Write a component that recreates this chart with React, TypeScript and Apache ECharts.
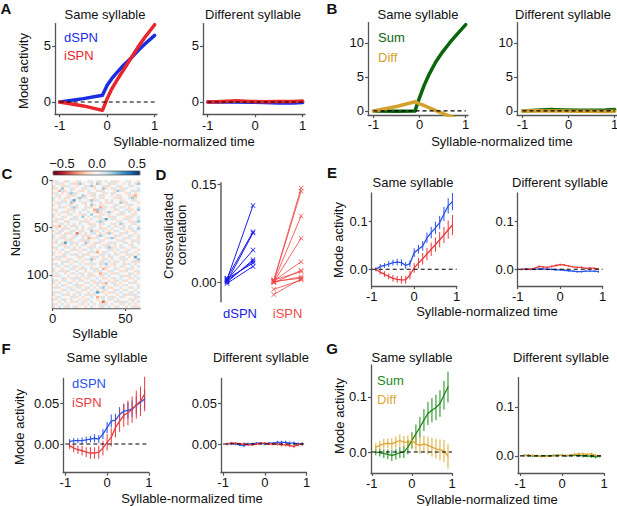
import React, { useEffect, useRef } from 'react';
import * as echarts from 'echarts';

// ---------- Panel A ----------
const A_T = [-1, -0.5, -0.1, 0, 0.1, 0.2, 0.35, 0.5, 0.65, 0.8, 1];
const A_DSPN = [0, 0.3, 0.6, 1.5, 2.1, 2.6, 3.3, 3.9, 4.6, 5.2, 5.95];
const A_ISPN = [0, -0.35, -0.75, 0.3, 1.2, 1.9, 2.9, 3.9, 4.9, 5.8, 6.9];
const A2_T = [-1, -0.7, -0.4, -0.1, 0.2, 0.5, 0.8, 1];
const A2_DSPN = [0, 0.02, 0, -0.02, -0.05, -0.08, -0.08, -0.05];
const A2_ISPN = [0, 0.05, 0.12, 0.05, 0.02, 0.05, 0.05, 0.08];

// ---------- Panel B ----------
const B_SUM = [0, -0.05, 0.0, 2.0, 3.8, 5.3, 7.2, 8.7, 10.0, 11.2, 12.7];
const B_DIFF = [0, 0.65, 1.35, 1.05, 0.8, 0.5, 0.05, -0.35, -0.75, -1.1, -1.7];
const B2_SUM = [0, 0.1, 0.2, 0.15, 0.1, 0.1, 0.12, 0.2];
const B2_DIFF = [0, 0.02, -0.02, 0, -0.05, -0.05, -0.08, -0.05];

// ---------- Panel C (neuron x syllable weights, digit d -> (d-4)*0.11) ----------
const C_ROWS = [
  '354435443544534354345334453443', '435344533634454634453544345436', '544335443445363443534435443544',
  '334644534453443446343543354445', '442534544334544353444365344535', '354343653444353443545344435434',
  '435443354463435453443453443324', '543435443635443435444335445634', '344534374544363544345443344354',
  '435354634435454434353446354443', '345443345443463453444534435344', '443534563445334423543545343445',
  '354443354453442635444354453346', '434535434544543254363443545434', '543443544335464433454435344354',
  '344534453464345354433544435345', '435344535443454435745344353445', '354435444353344563444435443536',
  '443543454544533435443546344354', '332454353454435434454334545443', '454335445434354453345445343546',
  '343544534354463345434354434354', '435433541543455434363445354434', '544354435435344365444353445345',
  '343534354454233544356344535443', '454435344533544453444435344353', '334574535446343534453544354345',
  '445334543453435443534345443544', '354435434544353454365343544354', '434544353435454344453454435443',
  '543435444344535243544345354434', '344354535453344435454534435345', '453534443534453543435443543474',
  '335443544345363443543445354436', '444353435434454435454354344353', '354544344543535453643544535434',
  '435435453454434434534345344545', '544344534335453542344534435344', '343535445443445354435443354435',
  '454434354534534423543354445343', '335445443454353435454445335454', '444534355343544543343545443345',
  '534354434534453454434354534434', '345443543445343535245343445354', '434534455334454343544534354443',
  '353445343543543456433445443545', '444354534453454343544354354434', '535443445344345753433545443545',
  '344535434545353444344434535354', '435444353434454235435345344435', '354534544343544345453454443534',
  '443454335453454431344535354345', '534543444534543453543443545434', '345435453443454435454354434353',
];

// ---------- Panel D ----------
const D_X = [0, 1, 1.8, 2.85];
const D_DSPN_PRE = [0.004, 0.006, 0.001, 0.003, 0.0, 0.002, 0.005, -0.002];
const D_DSPN_POST = [0.117, 0.077, 0.075, 0.049, 0.034, 0.032, 0.029, 0.024];
const D_ISPN_PRE = [0.003, 0.002, 0.001, 0.0, 0.002, -0.001, 0.003, 0.0, 0.001, -0.011, -0.019];
const D_ISPN_POST = [0.144, 0.139, 0.101, 0.067, 0.031, 0.018, 0.016, 0.008, 0.006, 0.003, 0.005];

// ---------- Panels E, F, G ----------
const T = [-0.9, -0.8, -0.7, -0.6, -0.5, -0.4, -0.3, -0.2, -0.1, 0, 0.1, 0.2, 0.3, 0.4, 0.5, 0.6, 0.7, 0.8, 0.9];

const E_DSPN = [0.0, 0.006, 0.008, 0.011, 0.014, 0.015, 0.014, 0.008, 0.012, 0.035, 0.042, 0.049, 0.066, 0.077, 0.087, 0.098, 0.116, 0.133, 0.142];
const E_DSPN_ERR = [0.004, 0.005, 0.005, 0.006, 0.006, 0.007, 0.007, 0.007, 0.007, 0.009, 0.009, 0.010, 0.011, 0.012, 0.013, 0.014, 0.015, 0.016, 0.018];
const E_ISPN = [0.0, -0.006, -0.010, -0.015, -0.019, -0.021, -0.022, -0.022, -0.012, 0.003, 0.013, 0.022, 0.032, 0.042, 0.052, 0.062, 0.072, 0.083, 0.093];
const E_ISPN_ERR = [0.004, 0.005, 0.006, 0.006, 0.007, 0.007, 0.008, 0.008, 0.009, 0.010, 0.011, 0.012, 0.013, 0.014, 0.015, 0.016, 0.017, 0.019, 0.021];
const E2_DSPN = [0.0, 0.001, 0.0, 0.0, 0.001, 0.001, 0.0, 0.0, -0.001, -0.001, -0.002, -0.003, -0.004, -0.005, -0.005, -0.004, -0.004, -0.004, -0.005];
const E2_ISPN = [0.0, 0.0, 0.0, 0.002, 0.006, 0.005, 0.004, 0.006, 0.008, 0.010, 0.009, 0.007, 0.005, 0.004, 0.004, 0.002, 0.003, 0.002, 0.001];
const E2_ERR = [0.002, 0.002, 0.002, 0.002, 0.002, 0.002, 0.002, 0.002, 0.002, 0.002, 0.002, 0.002, 0.002, 0.002, 0.002, 0.002, 0.002, 0.002, 0.002];

const F_DSPN = [0.003, 0.004, 0.004, 0.004, 0.005, 0.006, 0.007, 0.006, 0.012, 0.020, 0.028, 0.029, 0.036, 0.040, 0.041, 0.043, 0.047, 0.051, 0.055];
const F_DSPN_ERR = [0.003, 0.003, 0.003, 0.004, 0.004, 0.004, 0.005, 0.005, 0.006, 0.007, 0.008, 0.008, 0.009, 0.009, 0.010, 0.010, 0.011, 0.011, 0.012];
const F_ISPN = [-0.002, -0.005, -0.007, -0.008, -0.010, -0.011, -0.011, -0.010, -0.005, 0.002, 0.008, 0.020, 0.028, 0.035, 0.038, 0.042, 0.048, 0.052, 0.061];
const F_ISPN_ERR = [0.004, 0.005, 0.005, 0.006, 0.006, 0.007, 0.007, 0.008, 0.009, 0.010, 0.011, 0.012, 0.013, 0.014, 0.015, 0.016, 0.017, 0.018, 0.021];
const F2_DSPN = [0.0, 0.001, 0.0, -0.001, -0.002, 0.0, 0.0, 0.001, 0.001, 0.0, 0.001, 0.001, 0.002, 0.002, 0.002, 0.001, 0.001, 0.0, 0.0];
const F2_ISPN = [0.0, 0.001, 0.001, 0.0, 0.0, -0.001, -0.001, 0.0, 0.001, 0.001, 0.0, 0.0, 0.0, -0.001, -0.001, -0.002, -0.003, -0.001, 0.0];
const F2_ERR = [0.0015, 0.0015, 0.0015, 0.0015, 0.002, 0.0015, 0.0015, 0.0015, 0.0015, 0.0015, 0.0015, 0.0015, 0.002, 0.002, 0.002, 0.002, 0.002, 0.002, 0.002];

const G_SUM = [0.0, -0.001, -0.003, -0.004, -0.006, -0.004, -0.001, 0.0, 0.009, 0.021, 0.033, 0.045, 0.058, 0.070, 0.076, 0.081, 0.088, 0.103, 0.118];
const G_SUM_ERR = [0.006, 0.007, 0.008, 0.009, 0.010, 0.010, 0.010, 0.011, 0.013, 0.015, 0.017, 0.019, 0.020, 0.021, 0.022, 0.023, 0.024, 0.026, 0.028];
const G_DIFF = [0.009, 0.012, 0.015, 0.016, 0.015, 0.018, 0.021, 0.018, 0.018, 0.021, 0.015, 0.012, 0.015, 0.012, 0.009, 0.006, 0.004, 0.002, -0.008];
const G_DIFF_ERR = [0.007, 0.008, 0.009, 0.009, 0.010, 0.010, 0.011, 0.011, 0.012, 0.013, 0.014, 0.015, 0.015, 0.016, 0.017, 0.018, 0.019, 0.020, 0.022];
const G2_SUM = [0.001, 0.001, 0.0, 0.0, -0.001, 0.0, 0.0, 0.001, 0.001, 0.001, 0.0, 0.001, 0.002, 0.001, 0.0, 0.0, -0.001, -0.002, -0.001];
const G2_DIFF = [0.0, 0.001, 0.001, 0.0, -0.001, -0.001, 0.0, 0.0, 0.001, 0.001, 0.001, 0.002, 0.003, 0.004, 0.004, 0.003, 0.004, 0.001, 0.0];
const G2_ERR = [0.002, 0.002, 0.002, 0.002, 0.002, 0.002, 0.002, 0.002, 0.002, 0.002, 0.002, 0.002, 0.003, 0.003, 0.003, 0.003, 0.003, 0.003, 0.002];

const FONT = "'Liberation Sans', Arial, Helvetica, sans-serif";
const AX = '#555';
const BLUE_A = '#1b2de3';
const RED_A = '#e8262b';
const GREEN_B = '#0b650b';
const GOLD_B = '#d4a12d';
const BLUE_E = '#2a52e8';
const RED_E = '#ea3a3d';
const GREEN_G = '#1a8a1a';
const GOLD_G = '#dba832';
const BLUE_D = '#1a1ae8';
const RED_D = '#f04a4a';

const RDBU = ['#67001f', '#b2182b', '#d6604d', '#f4a582', '#fddbc7', '#f7f7f7', '#d1e5f0', '#92c5de', '#4393c3', '#2166ac', '#053061'];
const XSHAPE = 'path://M0,1L1,0L5,4L9,0L10,1L6,5L10,9L9,10L5,6L1,10L0,9L4,5Z';

function buildOption() {
  const grid: any[] = [];
  const xAxis: any[] = [];
  const yAxis: any[] = [];
  const series: any[] = [];

  const valAxis = (gi: number, r: number[], ticks: number[], fmt: (v: number) => string, margin: number, extra: any = {}) => ({
    type: 'value', gridIndex: gi, min: r[0], max: r[1], ...extra,
    axisLine: { show: true, onZero: false, lineStyle: { color: AX, width: 1.3 } },
    axisTick: { show: true, length: 3, customValues: ticks, lineStyle: { color: AX, width: 1.2 } },
    axisLabel: { customValues: ticks, formatter: fmt, fontSize: 13, color: '#111', fontFamily: FONT, margin },
    splitLine: { show: false },
  });

  const addPanel = (rect: number[], xr: number[], yr: number[], xt: number[], yt: number[], yfmt: (v: number) => string, xm: number) => {
    const gi = grid.length;
    grid.push({ left: rect[0], top: rect[1], width: rect[2], height: rect[3], containLabel: false, outerBoundsMode: 'none' });
    xAxis.push(valAxis(gi, xr, xt, (v) => String(v), xm, { position: 'bottom' }));
    yAxis.push(valAxis(gi, yr, yt, yfmt, 4, { position: 'left' }));
    return [xAxis.length - 1, yAxis.length - 1];
  };

  const line = (ax: number[], xs: number[], ys: number[], color: string, width: number, extra: any = {}) => ({
    type: 'line', xAxisIndex: ax[0], yAxisIndex: ax[1], data: xs.map((x, i) => [x, ys[i]]),
    showSymbol: false, symbol: 'none', silent: true, z: 3,
    lineStyle: { color, width, cap: 'round', join: 'round' }, itemStyle: { color }, ...extra,
  });
  const zero = (ax: number[]) => line(ax, [-1, 1], [0, 0], '#000', 1.1, { lineStyle: { color: '#000', width: 1.1, type: [4, 3] }, z: 5 });
  const err = (ax: number[], xs: number[], ys: number[], es: number[], color: string) => ({
    type: 'custom', xAxisIndex: ax[0], yAxisIndex: ax[1], silent: true, z: 2,
    data: xs.map((x, i) => [x, ys[i] - es[i], ys[i] + es[i]]),
    encode: { x: 0, y: [1, 2] },
    renderItem: (_p: any, api: any) => {
      const a = api.coord([api.value(0), api.value(1)]);
      const b = api.coord([api.value(0), api.value(2)]);
      return { type: 'line', shape: { x1: a[0], y1: a[1], x2: b[0], y2: b[1] }, style: { stroke: color, lineWidth: 1 } };
    },
  });

  const f0 = (v: number) => String(v);
  const f1 = (v: number) => v.toFixed(1);
  const f2 = (v: number) => v.toFixed(2);

  // A
  const a1 = addPanel([55, 23.6, 102, 90.7], [-1.1, 1.05], [-1.1, 7], [-1, 0, 1], [0, 5], f0, 5);
  const a2 = addPanel([203, 23.6, 102, 90.7], [-1.1, 1.05], [-1.1, 7], [-1, 0, 1], [0, 5], f0, 5);
  series.push(zero(a1), line(a1, A_T, A_DSPN, BLUE_A, 3.5), line(a1, A_T, A_ISPN, RED_A, 3.5));
  series.push(line(a2, A2_T, A2_DSPN, BLUE_A, 3.5), line(a2, A2_T, A2_ISPN, RED_A, 3.5), zero(a2));

  // B
  const b1 = addPanel([368, 22.6, 100, 92.4], [-1.12, 1.05], [-0.6, 13], [-1, 0, 1], [0, 5, 10], f0, 3);
  const b2 = addPanel([517, 22.6, 100, 92.4], [-1.12, 1.05], [-0.6, 13], [-1, 0, 1], [0, 5, 10], f0, 3);
  series.push(zero(b1), line(b1, A_T, B_SUM, GREEN_B, 3.5), line(b1, A_T, B_DIFF, GOLD_B, 3.5));
  series.push(line(b2, A2_T, B2_SUM, GREEN_B, 3.5), line(b2, A2_T, B2_DIFF, GOLD_B, 3.5), zero(b2));

  // C heatmap
  const gc = grid.length;
  grid.push({ left: 52.5, top: 180.5, width: 87.5, height: 127.5, containLabel: false, outerBoundsMode: 'none' });
  const nCols = C_ROWS[0].length;
  xAxis.push({ type: 'category', gridIndex: gc, position: 'top', data: Array.from({ length: nCols }, (_, i) => String(i)), show: false });
  const cxCat = xAxis.length - 1;
  xAxis.push(valAxis(gc, [0, 60], [0, 50], f0, 4, { position: 'bottom' }));
  yAxis.push({ type: 'category', gridIndex: gc, position: 'right', inverse: true, data: C_ROWS.map((_, i) => String(i)), show: false });
  const cyCat = yAxis.length - 1;
  yAxis.push(valAxis(gc, [0, 135], [0, 50, 100], f0, 4, { inverse: true, position: 'left' }));
  const heat: number[][] = [];
  C_ROWS.forEach((row, r) => row.split('').forEach((ch, c) => heat.push([c, r, (Number(ch) - 4) * 0.11])));
  const heatIdx = series.length;
  series.push({ type: 'heatmap', xAxisIndex: cxCat, yAxisIndex: cyCat, data: heat, progressive: 0, silent: true, itemStyle: { borderWidth: 0 }, z: 1 });

  // D
  const gd = grid.length;
  grid.push({ left: 220.5, top: 182.7, width: 89.7, height: 119, containLabel: false, outerBoundsMode: 'none' });
  xAxis.push({
    type: 'value', gridIndex: gd, min: -0.25, max: 3.2, position: 'bottom',
    axisLine: { show: false, onZero: false }, axisTick: { show: false }, splitLine: { show: false },
    axisLabel: {
      customValues: [0.5, 2.33], margin: 5, fontSize: 13, fontFamily: FONT,
      formatter: (v: number) => (v < 1.5 ? '{b|dSPN}' : '{r|iSPN}'),
      rich: { b: { color: BLUE_D, fontSize: 13, fontFamily: FONT }, r: { color: RED_D, fontSize: 13, fontFamily: FONT } },
    },
  });
  yAxis.push({
    ...valAxis(gd, [-0.03, 0.152], [0, 0.15], f2, 4, { position: 'left' }),
    axisLine: { show: true, onZero: false, lineStyle: { color: '#6a6a6a', width: 1.6 } },
  });
  const dAx = [xAxis.length - 1, yAxis.length - 1];
  const dPair = (pre: number, post: number, x0: number, x1: number, color: string, op: number) => ({
    type: 'line', xAxisIndex: dAx[0], yAxisIndex: dAx[1], data: [[x0, pre], [x1, post]], silent: true,
    symbol: XSHAPE, symbolSize: 5, showSymbol: true,
    lineStyle: { color, width: 1, opacity: op }, itemStyle: { color, opacity: op },
  });
  D_DSPN_PRE.forEach((p, i) => series.push(dPair(p, D_DSPN_POST[i], D_X[0], D_X[1], BLUE_D, 1)));
  D_ISPN_PRE.forEach((p, i) => series.push(dPair(p, D_ISPN_POST[i], D_X[2], D_X[3], RED_D, 0.85)));

  // E
  const e1 = addPanel([371.7, 193, 85, 93], [-1, 1], [-0.035, 0.16], [-1, 0, 1], [0, 0.1], f1, 3.5);
  const e2 = addPanel([517.7, 193, 85, 93], [-1, 1], [-0.035, 0.16], [-1, 0, 1], [0, 0.1], f1, 3.5);
  series.push(err(e1, T, E_DSPN, E_DSPN_ERR, BLUE_E), line(e1, T, E_DSPN, BLUE_E, 1.3),
    err(e1, T, E_ISPN, E_ISPN_ERR, RED_E), line(e1, T, E_ISPN, RED_E, 1.3), zero(e1));
  series.push(err(e2, T, E2_DSPN, E2_ERR, BLUE_E), line(e2, T, E2_DSPN, BLUE_E, 1.3),
    err(e2, T, E2_ISPN, E2_ERR, RED_E), line(e2, T, E2_ISPN, RED_E, 1.3), zero(e2));

  // F
  const fl = addPanel([63.3, 378.4, 85.5, 94.3], [-1.05, 1.0], [-0.035, 0.08], [-1, 0, 1], [0, 0.05], f2, 3.5);
  const fr = addPanel([221, 378.4, 85.5, 94.3], [-1.05, 1.0], [-0.035, 0.08], [-1, 0, 1], [0, 0.05], f2, 3.5);
  series.push(err(fl, T, F_DSPN, F_DSPN_ERR, BLUE_E), line(fl, T, F_DSPN, BLUE_E, 1.3),
    err(fl, T, F_ISPN, F_ISPN_ERR, RED_E), line(fl, T, F_ISPN, RED_E, 1.3), zero(fl));
  series.push(err(fr, T, F2_DSPN, F2_ERR, BLUE_E), line(fr, T, F2_DSPN, BLUE_E, 1.3),
    err(fr, T, F2_ISPN, F2_ERR, RED_E), line(fr, T, F2_ISPN, RED_E, 1.3), zero(fr));

  // G
  const g1 = addPanel([371, 365, 81, 108], [-1.02, 1.0], [-0.038, 0.158], [-1, 0, 1], [0, 0.1], f1, 3.5);
  const g2 = addPanel([518, 377.6, 86, 95.4], [-1.05, 1.0], [-0.035, 0.16], [-1, 0, 1], [0, 0.1], f1, 3.5);
  series.push(err(g1, T, G_SUM, G_SUM_ERR, GREEN_G), line(g1, T, G_SUM, GREEN_G, 1.3),
    err(g1, T, G_DIFF, G_DIFF_ERR, GOLD_G), line(g1, T, G_DIFF, GOLD_G, 1.3), zero(g1));
  series.push(err(g2, T, G2_SUM, G2_ERR, GREEN_G), line(g2, T, G2_SUM, GREEN_G, 1.3),
    err(g2, T, G2_DIFF, G2_ERR, GOLD_G), line(g2, T, G2_DIFF, GOLD_G, 1.3), zero(g2));

  // texts
  const txt = (text: string, x: number, y: number, o: any = {}) => ({
    type: 'text', x, y, rotation: o.rot || 0, silent: true, z: 10,
    style: {
      text, fontSize: o.size || 13, fontWeight: o.bold ? 'bold' : 'normal', fontFamily: FONT,
      fill: o.color || '#111', align: o.align || 'center', verticalAlign: 'middle',
    },
  });
  const R = Math.PI / 2;
  const graphic: any[] = [
    txt('A', 6, 8, { bold: true, size: 15 }), txt('B', 332, 8, { bold: true, size: 15 }),
    txt('C', 7, 173, { bold: true, size: 15 }), txt('D', 161, 174, { bold: true, size: 15 }),
    txt('E', 332, 172, { bold: true, size: 15 }), txt('F', 6, 348, { bold: true, size: 15 }),
    txt('G', 332, 348, { bold: true, size: 15 }),
    txt('Same syllable', 105, 14), txt('Different syllable', 253, 14),
    txt('Same syllable', 418, 14), txt('Different syllable', 563, 14),
    txt('Same syllable', 413, 182), txt('Different syllable', 560, 182),
    txt('Same syllable', 107, 357), txt('Different syllable', 261, 357),
    txt('Same syllable', 412, 357), txt('Different syllable', 561, 357),
    txt('Syllable-normalized time', 184, 141), txt('Syllable-normalized time', 502, 141),
    txt('Syllable-normalized time', 487, 311), txt('Syllable-normalized time', 192, 498),
    txt('Syllable-normalized time', 487, 499),
    txt('Mode activity', 23, 71, { rot: R }), txt('Mode activity', 338, 240, { rot: R }),
    txt('Mode activity', 19, 427, { rot: R }), txt('Mode activity', 339, 416, { rot: R }),
    txt('Crossvalidated', 168, 236, { rot: R }), txt('correlation', 181, 235, { rot: R }),
    txt('Neuron', 15, 235, { rot: R }), txt('Syllable', 95, 333),
    txt('\u22120.5', 62, 163), txt('0.0', 97, 163), txt('0.5', 137, 163),
    txt('dSPN', 64, 37, { align: 'left', color: BLUE_A }), txt('iSPN', 64, 55, { align: 'left', color: RED_A }),
    txt('Sum', 378, 37, { align: 'left', color: GREEN_B }), txt('Diff', 378, 57, { align: 'left', color: GOLD_B }),
    txt('dSPN', 72, 383, { align: 'left', color: BLUE_E }), txt('iSPN', 72, 402, { align: 'left', color: RED_E }),
    txt('Sum', 377, 380, { align: 'left', color: GREEN_G }), txt('Diff', 377, 399, { align: 'left', color: GOLD_G }),
    { type: 'rect', silent: true, z: 11, shape: { x: 53, y: 171, width: 87, height: 4 }, style: { fill: 'none', stroke: '#333', lineWidth: 0.6 } },
  ];

  return {
    animation: false,
    backgroundColor: '#fff',
    grid, xAxis, yAxis, series, graphic,
    visualMap: [{
      type: 'continuous', min: -0.6, max: 0.6, seriesIndex: heatIdx, orient: 'horizontal',
      left: 53, top: 171, itemWidth: 4, itemHeight: 87, calculable: false, padding: 0,
      hoverLink: false, inRange: { color: RDBU },
    }],
  };
}

export default function App() {
  const ref = useRef<HTMLDivElement>(null);
  useEffect(() => {
    const chart = echarts.init(ref.current!, null, { renderer: 'svg' });
    chart.setOption(buildOption() as any);
    return () => chart.dispose();
  }, []);
  return <div ref={ref} style={{ position: 'absolute', left: 0, top: 0, width: 617, height: 506, background: '#fff' }} />;
}
